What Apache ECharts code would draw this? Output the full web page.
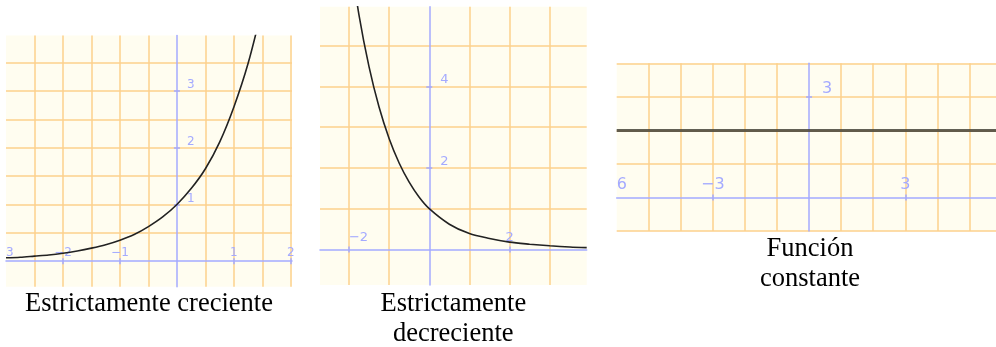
<!DOCTYPE html>
<html>
<head>
<meta charset="utf-8">
<script src="https://cdn.jsdelivr.net/npm/echarts@6/dist/echarts.min.js"></script>
<style>
html, body { margin: 0; padding: 0; background: #fff; }
#main { width: 996px; height: 347px; }
</style>
</head>
<body>
<div id="main"></div>
<script>
// panel 1: estrictamente creciente
var creX = [-3, -2.75, -2.5, -2.25, -2, -1.75, -1.5, -1.25, -1, -0.75, -0.5, -0.25, 0, 0.25, 0.5, 0.75, 1, 1.25, 1.5];
var creY = [0.06, 0.07, 0.09, 0.11, 0.14, 0.18, 0.23, 0.29, 0.37, 0.47, 0.61, 0.78, 1, 1.28, 1.63, 2.1, 2.72, 3.49, 4.48];
// panel 2: estrictamente decreciente
var decX = [-2, -1.75, -1.5, -1.25, -1, -0.75, -0.5, -0.25, 0, 0.5, 1, 1.5, 2, 2.5, 3, 3.5, 3.92];
var decY = [7.39, 5.75, 4.48, 3.49, 2.72, 2.12, 1.65, 1.28, 1, 0.62, 0.39, 0.27, 0.18, 0.13, 0.09, 0.06, 0.045];
// panel 3: funcion constante
var conX = [-6, 5.83];
var conY = [2, 2];

// grid lines and tick labels
var creGridX = [-2.5, -2, -1.5, -1, -0.5, 0.5, 1, 1.5, 2];
var creGridY = [0.5, 1, 1.5, 2, 2.5, 3, 3.5];
var creLabX = [-3, -2, -1, 1, 2];
var creTxtX = ['3', '−2', '−1', '1', '2'];
var creLabY = [1, 2, 3];
var creTxtY = ['1', '2', '3'];

var decGridX = [-2, -1, 1, 2, 3];
var decGridY = [1, 2, 3, 4, 5];
var decLabX = [-2, 2];
var decTxtX = ['−2', '2'];
var decLabY = [2, 4];
var decTxtY = ['2', '4'];

var conGridX = [-5, -4, -3, -2, -1, 1, 2, 3, 4, 5];
var conGridY = [-1, 1, 2, 3, 4];
var conLabX = [-6, -3, 3];
var conTxtX = ['6', '−3', '3'];
var conLabY = [3];
var conTxtY = ['3'];

var bg = '#fffdf0';
var orange = '#fdd08c';
var blue = '#a4aaff';

// panel boxes in pixels
var boxes = [
	{ left: 6, top: 35.5, width: 286, height: 251.2 },
	{ left: 320, top: 6.7, width: 266.7, height: 278.3 },
	{ left: 616.7, top: 63.3, width: 379.3, height: 167.7 }
];

function pairs(xs, ys) {
	var out = [];
	for (var i = 0; i < xs.length; i++) {
		out.push([xs[i], ys[i]]);
	}
	return out;
}

function textFor(vals, txts) {
	return function (v) {
		for (var i = 0; i < vals.length; i++) {
			if (Math.abs(vals[i] - v) < 1e-6) return txts[i];
		}
		return '';
	};
}

// distance from the grid edge to the zero line, used as a negative offset
function zeroOffsetX(idx, xmin, xmax) {
	return -(0 - xmin) / (xmax - xmin) * boxes[idx].width;
}
function zeroOffsetY(idx, ymin, ymax) {
	return -(0 - ymin) / (ymax - ymin) * boxes[idx].height;
}

var xAxes = [];
var yAxes = [];

function addPanel(idx, xmin, xmax, ymin, ymax, g, size, mx, my) {
	var offX = zeroOffsetY(idx, ymin, ymax); // x axis sits on y = 0
	var offY = zeroOffsetX(idx, xmin, xmax); // y axis sits on x = 0
	// no tick mark right on the panel edge
	var tickX = g.labX.filter(function (v) { return v > xmin; });
	var tickY = g.labY.filter(function (v) { return v > ymin; });
	xAxes.push({
		type: 'value', gridIndex: idx, position: 'bottom', offset: offX,
		min: xmin, max: xmax,
		axisLine: { onZero: false, lineStyle: { color: blue, width: 1.5 } },
		axisTick: { show: false, customValues: g.gridX },
		splitLine: { show: true, lineStyle: { color: orange, width: 1.5 } },
		axisLabel: {
			inside: true, margin: mx,
			customValues: g.labX, formatter: textFor(g.labX, g.txtX),
			color: blue, fontFamily: 'DejaVu Sans', fontSize: size,
			alignMinLabel: 'left'
		}
	});
	// short tick marks crossing the axis at the labelled values
	xAxes.push({
		type: 'value', gridIndex: idx, position: 'bottom', offset: offX - 3,
		min: xmin, max: xmax,
		axisLine: { show: false, onZero: false },
		axisTick: { show: true, length: 6, customValues: tickX, lineStyle: { color: blue, width: 1.5 } },
		splitLine: { show: false },
		axisLabel: { show: false }
	});
	yAxes.push({
		type: 'value', gridIndex: idx, position: 'left', offset: offY,
		min: ymin, max: ymax,
		axisLine: { onZero: false, lineStyle: { color: blue, width: 1.5 } },
		axisTick: { show: false, customValues: g.gridY },
		splitLine: { show: true, lineStyle: { color: orange, width: 1.5 } },
		axisLabel: {
			inside: true, margin: my,
			customValues: g.labY, formatter: textFor(g.labY, g.txtY),
			color: blue, fontFamily: 'DejaVu Sans', fontSize: size,
			verticalAlign: 'bottom', lineHeight: size
		}
	});
	yAxes.push({
		type: 'value', gridIndex: idx, position: 'left', offset: offY - 3,
		min: ymin, max: ymax,
		axisLine: { show: false, onZero: false },
		axisTick: { show: true, length: 6, customValues: tickY, lineStyle: { color: blue, width: 1.5 } },
		splitLine: { show: false },
		axisLabel: { show: false }
	});
}

addPanel(0, -3, 2.02, -0.45, 3.98,
	{ gridX: creGridX, gridY: creGridY, labX: creLabX, txtX: creTxtX, labY: creLabY, txtY: creTxtY }, 12, 2, 10);
addPanel(1, -2.72, 3.92, -0.87, 5.95,
	{ gridX: decGridX, gridY: decGridY, labX: decLabX, txtX: decTxtX, labY: decLabY, txtY: decTxtY }, 13, 5, 11);
addPanel(2, -6, 5.83, -1, 4,
	{ gridX: conGridX, gridY: conGridY, labX: conLabX, txtX: conTxtX, labY: conLabY, txtY: conTxtY }, 16, 5, 13);

var captionFont = '26.5px "Liberation Serif"';

var grids = [];
for (var i = 0; i < boxes.length; i++) {
	grids.push({
		left: boxes[i].left, top: boxes[i].top, width: boxes[i].width, height: boxes[i].height,
		show: true, backgroundColor: bg, borderWidth: 0
	});
}

var option = {
	backgroundColor: '#ffffff',
	animation: false,
	grid: grids,
	xAxis: xAxes,
	yAxis: yAxes,
	series: [
		{
			type: 'line', xAxisIndex: 0, yAxisIndex: 0,
			data: pairs(creX, creY),
			smooth: 0.3, showSymbol: false, clip: true,
			lineStyle: { color: '#222', width: 1.6 }
		},
		{
			type: 'line', xAxisIndex: 2, yAxisIndex: 2,
			data: pairs(decX, decY),
			smooth: 0.3, showSymbol: false, clip: true,
			lineStyle: { color: '#222', width: 1.6 }
		},
		{
			type: 'line', xAxisIndex: 4, yAxisIndex: 4,
			data: pairs(conX, conY),
			showSymbol: false, clip: true,
			lineStyle: { color: 'rgba(70,68,58,0.85)', width: 3 }
		}
	],
	graphic: [
		{ type: 'text', x: 149, y: 303.7, style: { text: 'Estrictamente creciente', font: captionFont, fill: '#000', align: 'center', verticalAlign: 'middle' } },
		{ type: 'text', x: 453.3, y: 318.7, style: { text: 'Estrictamente\ndecreciente', font: captionFont, fill: '#000', align: 'center', verticalAlign: 'middle', lineHeight: 30 } },
		{ type: 'text', x: 810, y: 263.7, style: { text: 'Función\nconstante', font: captionFont, fill: '#000', align: 'center', verticalAlign: 'middle', lineHeight: 30 } }
	]
};

var myChart = echarts.init(document.getElementById('main'));
myChart.setOption(option);
</script>
</body>
</html>
